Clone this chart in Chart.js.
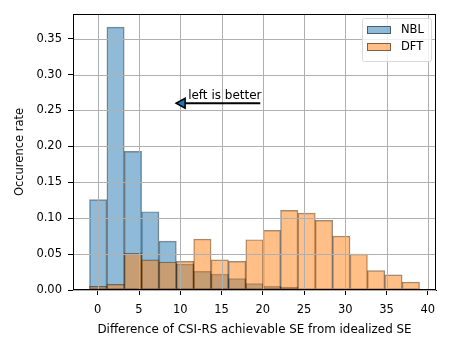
<!DOCTYPE html>
<html>
<head>
<meta charset="utf-8">
<script src="https://cdn.jsdelivr.net/npm/chart.js@4"></script>
<style>
  html, body { margin: 0; padding: 0; background: #fff; }
  #wrap { width: 450px; height: 350px; }
</style>
</head>
<body>
<div id="wrap"><canvas id="myChart" width="450" height="350"></canvas></div>
<script>
// histogram bin edges (19 bins between -1 and 39)
var binEdges = [-1, 1.105, 3.211, 5.316, 7.421, 9.526, 11.632, 13.737, 15.842, 17.947,
                20.053, 22.158, 24.263, 26.368, 28.474, 30.579, 32.684, 34.789, 36.895, 39];
var seriesNames = ['NBL', 'DFT'];
var nblRate = [0.126, 0.366, 0.193, 0.109, 0.068, 0.036, 0.026, 0.022, 0.016, 0.009,
               0.005, 0.004, 0.001, 0, 0, 0, 0, 0.001, 0];
var dftRate = [0.005, 0.008, 0.051, 0.042, 0.039, 0.040, 0.071, 0.042, 0.040, 0.070,
               0.083, 0.111, 0.107, 0.097, 0.075, 0.050, 0.027, 0.021, 0.011];
var xTicks = [0, 5, 10, 15, 20, 25, 30, 35, 40];
var yTicks = [0, 0.05, 0.10, 0.15, 0.20, 0.25, 0.30, 0.35];
var arrowText = 'left is better';
var arrowTail = [19.7, 0.26];
var arrowTip = [9.5, 0.26];

var FONT = '"DejaVu Sans", sans-serif';
var FS = 11.5;
var colors = ['rgba(31, 119, 180, 0.5)', 'rgba(255, 127, 14, 0.5)'];

function toPoints(vals) {
  var pts = [];
  for (var i = 0; i < vals.length; i++) {
    pts.push({ x: (binEdges[i] + binEdges[i + 1]) / 2, y: vals[i] });
  }
  return pts;
}

// grid on top of bars, full black frame, arrow and legend
var extras = {
  id: 'extras',
  afterDatasetsDraw: function (chart) {
    var c = chart.ctx, a = chart.chartArea;
    var xs = chart.scales.x, ys = chart.scales.y;
    c.save();
    c.strokeStyle = '#b0b0b0';
    c.lineWidth = 1;
    xTicks.forEach(function (t) {
      var px = Math.round(xs.getPixelForValue(t)) + 0.5;
      c.beginPath(); c.moveTo(px, a.top); c.lineTo(px, a.bottom); c.stroke();
    });
    yTicks.forEach(function (t) {
      var py = Math.round(ys.getPixelForValue(t)) + 0.5;
      c.beginPath(); c.moveTo(a.left, py); c.lineTo(a.right, py); c.stroke();
    });
    c.restore();
  },
  afterDraw: function (chart) {
    var c = chart.ctx, a = chart.chartArea;
    var xs = chart.scales.x, ys = chart.scales.y;
    c.save();
    // frame
    c.strokeStyle = '#000';
    c.lineWidth = 1;
    c.strokeRect(a.left + 0.5, a.top + 0.5, a.right - a.left - 1, a.bottom - a.top - 1);

    // arrow
    var tx = xs.getPixelForValue(arrowTail[0]), ty = ys.getPixelForValue(arrowTail[1]);
    var hx = xs.getPixelForValue(arrowTip[0]), hy = ys.getPixelForValue(arrowTip[1]);
    c.lineWidth = 2;
    c.beginPath(); c.moveTo(tx, ty); c.lineTo(hx + 8, hy); c.stroke();
    c.beginPath();
    c.moveTo(hx, hy);
    c.lineTo(hx + 9, hy - 5);
    c.lineTo(hx + 9, hy + 5);
    c.closePath();
    c.fillStyle = '#1f77b4';
    c.lineWidth = 1.5;
    c.fill(); c.stroke();
    c.fillStyle = '#000';
    c.font = '12px ' + FONT;
    c.textAlign = 'left';
    c.textBaseline = 'alphabetic';
    c.fillText(arrowText, hx + 12, hy - 4);

    // legend (upper right)
    var lx = a.right - 74, ly = a.top + 4, lw = 69, lh = 43;
    c.beginPath();
    c.roundRect(lx + 0.5, ly + 0.5, lw, lh, 2);
    c.fillStyle = 'rgba(255,255,255,0.8)';
    c.fill();
    c.strokeStyle = '#d9d9d9';
    c.lineWidth = 1;
    c.stroke();
    c.font = FS + 'px ' + FONT;
    c.textBaseline = 'middle';
    seriesNames.forEach(function (name, i) {
      var ry = ly + 8 + i * 17;
      c.fillStyle = colors[i];
      c.fillRect(lx + 5, ry, 24, 8);
      c.strokeStyle = 'rgba(0,0,0,0.5)';
      c.strokeRect(lx + 5.5, ry + 0.5, 23, 7);
      c.fillStyle = '#000';
      c.fillText(name, lx + 39, ry + 4.5);
    });
    c.restore();
  }
};

var ctx = document.getElementById('myChart').getContext('2d');
var myChart = new Chart(ctx, {
  type: 'bar',
  data: {
    datasets: [{
      label: seriesNames[0],
      data: toPoints(nblRate),
      backgroundColor: colors[0],
      borderColor: 'rgba(0, 0, 0, 0.45)',
      borderWidth: 0.8,
      borderSkipped: false,
      grouped: false,
      barPercentage: 1,
      categoryPercentage: 1,
      order: 2
    }, {
      label: seriesNames[1],
      data: toPoints(dftRate),
      backgroundColor: colors[1],
      borderColor: 'rgba(0, 0, 0, 0.45)',
      borderWidth: 0.8,
      borderSkipped: false,
      grouped: false,
      barPercentage: 1,
      categoryPercentage: 1,
      order: 1
    }]
  },
  options: {
    responsive: false,
    animation: false,
    layout: { padding: { top: 14, right: 14, left: 0, bottom: 0 } },
    plugins: { legend: { display: false }, tooltip: { enabled: false } },
    scales: {
      x: {
        type: 'linear',
        offset: false,
        min: -3,
        max: 41,
        afterFit: function (s) { s.height = 60; },
        afterBuildTicks: function (s) { s.ticks = xTicks.map(function (v) { return { value: v }; }); },
        grid: { drawOnChartArea: false, color: '#000', tickLength: 5, offset: false },
        border: { color: '#000' },
        ticks: { color: '#000', font: { family: FONT, size: FS }, padding: 8, maxRotation: 0,
                 callback: function (v) { return String(v); } },
        title: { display: true, text: 'Difference of CSI-RS achievable SE from idealized SE',
                 color: '#000', font: { family: FONT, size: 11.9 }, padding: { top: 0, bottom: 13 } }
      },
      y: {
        type: 'linear',
        min: 0,
        max: 0.3843,
        afterFit: function (s) { s.width = 73; },
        afterBuildTicks: function (s) { s.ticks = yTicks.map(function (v) { return { value: v }; }); },
        grid: { drawOnChartArea: false, color: '#000', tickLength: 5 },
        border: { color: '#000' },
        ticks: { color: '#000', font: { family: FONT, size: FS }, padding: 6,
                 callback: function (v) { return v.toFixed(2); } },
        title: { display: true, text: 'Occurence rate', color: '#000',
                 font: { family: FONT, size: FS }, padding: { top: 13, bottom: 0 } }
      }
    }
  },
  plugins: [extras]
});
</script>
</body>
</html>
